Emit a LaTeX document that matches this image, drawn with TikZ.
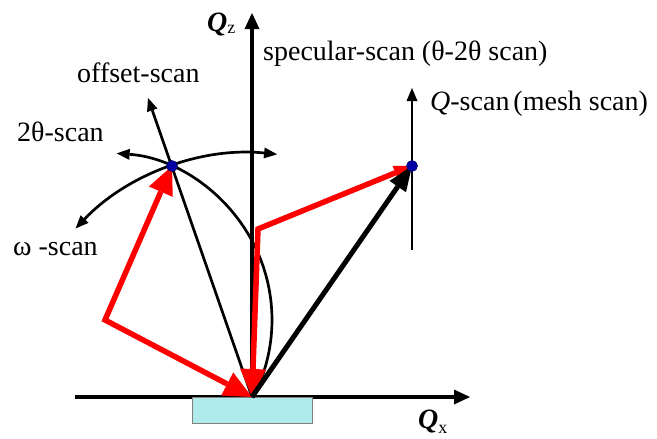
\documentclass[tikz,border=0pt]{standalone}
\usepackage{fontspec}
\setmainfont{Liberation Serif}
\usetikzlibrary{arrows.meta}
\begin{document}
\begin{tikzpicture}[x=1pt,y=-1pt,
  txt/.style={font=\fontsize{28}{32}\selectfont, inner sep=0pt, anchor=base west},
  axisarr/.style={line width=3.2pt, -{Triangle[length=16pt,width=15pt,line width=0pt]}},
  thinline/.style={line width=2.7pt},
  redline/.style={draw=red, line width=5.5pt, line join=miter},
  bigblack/.style={line width=5pt, -{Triangle[length=25pt,width=20pt,line width=0pt]}},
  dot/.style={circle, fill=blue!65!black, draw=blue!40!black, line width=0.6pt, minimum size=11pt, inner sep=0pt},
  substrate/.style={fill={rgb,255:red,176;green,234;blue,234}, draw=gray, line width=1pt}
]
\tikzset{
  smalltip/.tip={Triangle[length=13pt,width=11pt,line width=0pt]},
  redtip/.tip={Triangle[length=28pt,width=26pt,line width=0pt]},
  redsmall/.tip={Triangle[length=18pt,width=15pt,line width=0pt]}
}
\useasboundingbox (0,0) rectangle (657,439);

% coordinates
\coordinate (O) at (252,397);
\coordinate (D1) at (172,166);
\coordinate (D2) at (412,166);
\coordinate (C) at (105,320);
\coordinate (P) at (258,229);
\coordinate (Off) at (148,98);
\coordinate (QxS) at (75,397);
\coordinate (QxE) at (470,397);
\coordinate (QzE) at (252,13);
\coordinate (QsS) at (412,250);
\coordinate (QsE) at (412,88);

% Qx axis and substrate
\draw[axisarr] (QxS) -- (QxE);
\draw[substrate] (192,397) rectangle (312,423);

% Qz axis
\draw[axisarr] (O) -- (QzE);

% Q-scan line
\draw[thinline, -smalltip] (QsS) -- (QsE);

% omega-scan arc (centred at O)
\draw[thinline, smalltip-smalltip]
  (O) ++(-136.3:244) arc[start angle=-136.3, end angle=-84.1, radius=244];

% 2theta-scan arc (centred at C)
\draw[thinline, smalltip-]
  (C) ++(-86:167) arc[start angle=-86, end angle=27.65, radius=167];

% offset-scan line
\draw[thinline, -smalltip] (O) -- (Off);

% red vectors
\draw[redline, redtip-redtip] (D1) -- (C) -- (O);
\draw[redline, redsmall-redtip] (D2) -- (P) -- (O);

% black thick vector
\draw[bigblack] (O) -- (D2);

% dots
\node[dot] (d1) at (D1) {};
\node[dot] (d2) at (D2) {};

% labels
\node[txt] (lqz) at (207,31) {\textbf{\textit{Q}}\raisebox{-2pt}{\fontsize{18}{20}\selectfont z}};
\node[txt] (lqx) at (418,428) {\textbf{\textit{Q}}\raisebox{-5pt}{\fontsize{18}{20}\selectfont x}};
\node[txt] (lspec) at (263,60) {specular-scan (θ-2θ scan)};
\node[txt] (lqs) at (430,110) {\textit{Q}-scan\hspace{4pt}(mesh scan)};
\node[txt] (loff) at (77,82) {offset-scan};
\node[txt] (l2t) at (17,141) {2θ-scan};
\node[txt] (lom) at (13,255) {ω -scan};
\end{tikzpicture}
\end{document}
